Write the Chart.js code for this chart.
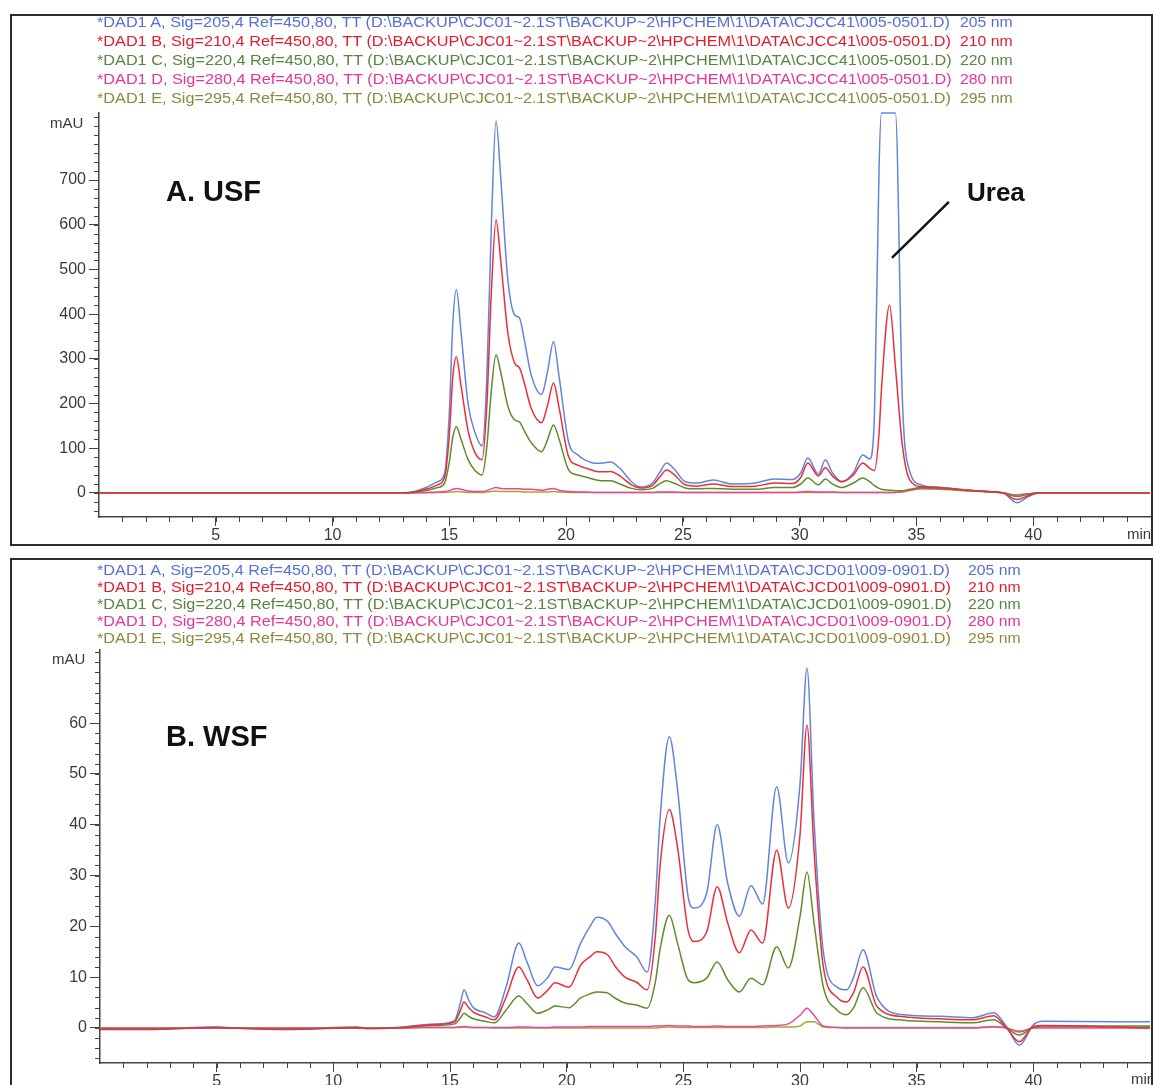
<!DOCTYPE html>
<html>
<head>
<meta charset="utf-8">
<script src="https://cdn.jsdelivr.net/npm/chart.js@4.4.0/dist/chart.umd.min.js"></script>
<style>
  html, body { margin:0; padding:0; background:#fff; }
  body { width:1153px; height:1085px; overflow:hidden; position:relative; font-family:'Liberation Sans', Arial, sans-serif; }
  .frame { position:absolute; border:2px solid #2e2e2e; box-sizing:border-box; }
  .hdr { position:absolute; white-space:pre; font-size:15px; transform-origin:0 50%; }
  .lbl { position:absolute; font-weight:bold; color:#111; white-space:pre; }
  .ax { position:absolute; font-size:15px; color:#3a3a3a; }
  canvas { position:absolute; left:0; }
</style>
</head>
<body>
<div class="frame" style="left:10px;top:14px;width:1143px;height:532px;"></div>
<div class="frame" style="left:10px;top:558px;width:1143px;height:560px;"></div>
<canvas id="cA" width="1153" height="550" style="top:0px;"></canvas>
<canvas id="cB" width="1153" height="535" style="top:550px;"></canvas>
<div id="hdrA"></div>
<div id="hdrB"></div>
<div class="lbl" style="left:166px;top:175px;font-size:29px;">A. USF</div>
<div class="lbl" style="left:967px;top:177px;font-size:26px;">Urea</div>
<div class="lbl" style="left:166px;top:720px;font-size:29px;">B. WSF</div>
<div class="ax" style="left:50px;top:114px;">mAU</div>
<div class="ax" style="left:52px;top:650px;">mAU</div>
<div class="ax" style="left:1127px;top:525px;">min</div>
<div class="ax" style="left:1131px;top:1070px;">min</div>
<script>
// ---------------- DATA ----------------
const seriesLabels = ['205 nm', '210 nm', '220 nm', '280 nm', '295 nm'];

const headerA = [
  '*DAD1 A, Sig=205,4 Ref=450,80, TT (D:\\BACKUP\\CJC01~2.1ST\\BACKUP~2\\HPCHEM\\1\\DATA\\CJCC41\\005-0501.D)',
  '*DAD1 B, Sig=210,4 Ref=450,80, TT (D:\\BACKUP\\CJC01~2.1ST\\BACKUP~2\\HPCHEM\\1\\DATA\\CJCC41\\005-0501.D)',
  '*DAD1 C, Sig=220,4 Ref=450,80, TT (D:\\BACKUP\\CJC01~2.1ST\\BACKUP~2\\HPCHEM\\1\\DATA\\CJCC41\\005-0501.D)',
  '*DAD1 D, Sig=280,4 Ref=450,80, TT (D:\\BACKUP\\CJC01~2.1ST\\BACKUP~2\\HPCHEM\\1\\DATA\\CJCC41\\005-0501.D)',
  '*DAD1 E, Sig=295,4 Ref=450,80, TT (D:\\BACKUP\\CJC01~2.1ST\\BACKUP~2\\HPCHEM\\1\\DATA\\CJCC41\\005-0501.D)'
];
const headerB = [
  '*DAD1 A, Sig=205,4 Ref=450,80, TT (D:\\BACKUP\\CJC01~2.1ST\\BACKUP~2\\HPCHEM\\1\\DATA\\CJCD01\\009-0901.D)',
  '*DAD1 B, Sig=210,4 Ref=450,80, TT (D:\\BACKUP\\CJC01~2.1ST\\BACKUP~2\\HPCHEM\\1\\DATA\\CJCD01\\009-0901.D)',
  '*DAD1 C, Sig=220,4 Ref=450,80, TT (D:\\BACKUP\\CJC01~2.1ST\\BACKUP~2\\HPCHEM\\1\\DATA\\CJCD01\\009-0901.D)',
  '*DAD1 D, Sig=280,4 Ref=450,80, TT (D:\\BACKUP\\CJC01~2.1ST\\BACKUP~2\\HPCHEM\\1\\DATA\\CJCD01\\009-0901.D)',
  '*DAD1 E, Sig=295,4 Ref=450,80, TT (D:\\BACKUP\\CJC01~2.1ST\\BACKUP~2\\HPCHEM\\1\\DATA\\CJCD01\\009-0901.D)'
];

const xTicks = [5, 10, 15, 20, 25, 30, 35, 40];
const yTicksA = [0, 100, 200, 300, 400, 500, 600, 700];
const yTicksB = [0, 10, 20, 30, 40, 50, 60];

// Panel A: USF (retention time, min)
const timeA = [0, 5, 10, 13, 13.5, 14, 14.5, 14.8, 15.0, 15.15,
  15.3, 15.5, 15.8, 16.1, 16.4, 16.6, 16.8, 17.0, 17.2, 17.5,
  17.8, 18.0, 18.2, 18.5, 18.95, 19.2, 19.46, 19.7, 20.1, 20.5,
  20.8, 21.3, 21.6, 21.9, 22.3, 22.8, 23.2, 23.7, 24.0, 24.3,
  24.6, 25.1, 25.6, 26.3, 27.1, 28.1, 28.9, 29.7, 30.05, 30.35,
  30.8, 31.1, 31.4, 31.8, 32.3, 32.7, 33.0, 33.2, 33.4, 33.5,
  33.85, 34.1, 34.4, 34.7, 35.2, 36.0, 37.0, 38.0, 38.7, 39.3,
  39.8, 40.3, 45];
const usf205 = [0, 0, 0, 0, 3, 12, 25, 45, 180, 380,
  455, 360, 200, 135, 105, 250, 600, 832, 705, 480,
  398, 392, 345, 265, 220, 270, 338, 260, 115, 85,
  74, 66, 67, 69, 55, 25, 13, 22, 45, 67,
  55, 25, 22, 29, 20, 22, 31, 30, 45, 78,
  42, 74, 45, 25, 45, 85, 76, 170, 730, 850,
  850, 850, 205, 50, 18, 12, 7, 3, 0, -22,
  -8, 0, 0];
const usf210 = [0, 0, 0, 0, 2, 8, 18, 35, 130, 260,
  304, 240, 140, 90, 74, 190, 450, 611, 520, 360,
  290, 280, 248, 190, 157, 195, 246, 190, 82, 62,
  56, 48, 47, 48, 38, 18, 11, 17, 35, 51,
  42, 18, 15, 20, 14, 15, 22, 21, 35, 67,
  38, 56, 38, 25, 40, 67, 55, 50, 134, 230,
  420, 282, 105, 30, 14, 12, 7, 3, 0, -15,
  -6, 0, 0];
const usf220 = [0, 0, 0, 0, 1, 5, 12, 22, 70, 125,
  148, 120, 75, 50, 40, 100, 230, 309, 270, 195,
  163, 159, 140, 113, 92, 118, 152, 120, 52, 40,
  36, 29, 27, 27, 20, 10, 7, 10, 20, 27,
  22, 11, 9, 10, 8, 8, 12, 12, 20, 33,
  18, 31, 20, 12, 22, 33, 25, 16, 10, 8,
  6, 5, 5, 8, 12, 10, 6, 3, 0, -8,
  -3, 0, 0];
const usf280 = [0, 0, 0, 0, 0, 1, 2, 3, 5, 8,
  10, 8, 4, 3, 3, 5, 9, 12, 10, 9,
  9, 9, 8, 8, 6, 8, 10, 6, 3, 2,
  2, 1, 1, 1, 1, 1, 1, 1, 2, 2,
  2, 1, 1, 1, 1, 1, 1, 1, 2, 3,
  2, 2, 2, 1, 1, 1, 1, 1, 1, 1,
  1, 1, 3, 6, 10, 9, 6, 3, 0, -5,
  -2, 0, 0];
const usf295 = [0, 0, 0, 0, 0, 0, 1, 1, 2, 2,
  3, 2, 1, 1, 1, 2, 3, 4, 3, 3,
  3, 3, 2, 2, 2, 2, 3, 2, 1, 1,
  1, 1, 1, 1, 1, 1, 1, 1, 1, 1,
  1, 1, 1, 1, 1, 1, 1, 1, 1, 1,
  1, 1, 1, 1, 1, 1, 1, 1, 1, 1,
  1, 1, 2, 5, 9, 8, 5, 2, 0, -5,
  -2, 0, 0];

// Panel B: WSF (retention time, min)
const timeB = [0, 2, 5, 5.5, 8, 11, 11.5, 13, 13.8, 14.5,
  15.2, 15.45, 15.6, 15.8, 16.0, 16.5, 16.9, 17.4, 17.95, 18.3,
  18.76, 19.2, 19.5, 20.1, 20.6, 21.0, 21.3, 21.75, 22.1, 22.5,
  23.0, 23.45, 23.8, 24.0, 24.4, 24.75, 25.2, 25.45, 26.0, 26.45,
  26.9, 27.4, 27.9, 28.4, 29.0, 29.5, 30.0, 30.3, 30.6, 31.0,
  31.6, 32.0, 32.3, 32.7, 33.3, 34.45, 36.0, 37.4, 38.3, 38.85,
  39.4, 40.0, 40.4, 45];
const wsf205 = [-0.2, -0.2, 0.2, 0.1, -0.2, 0.2, 0, 0.2, 0.6, 0.8,
  1.5, 5, 7.5, 5.5, 4, 3, 2.2, 8, 16.7, 13,
  8.3, 10, 12, 11.5, 16.7, 20, 21.8, 21, 18.5, 16,
  14, 11, 25, 41, 57.3, 47, 26, 23.6, 26.5, 40,
  28.5, 22, 28, 24.4, 47.5, 32.5, 48, 70.8, 41, 15,
  8, 7.5, 10, 15.4, 6, 2.6, 2.3, 2, 3, 0.3,
  -3.4, 0.6, 1.3, 1.2];
const wsf210 = [-0.3, -0.3, 0.1, 0, -0.3, 0.1, -0.1, 0.1, 0.5, 0.7,
  1.2, 3.5, 5.1, 4, 3.1, 2.2, 1.6, 6, 12, 9.5,
  5.9, 7.5, 8.9, 8, 12.4, 14, 15, 14.4, 12, 10,
  9, 7.5, 18, 31.7, 43, 35.6, 19.3, 17, 18.9, 27.8,
  20.7, 14.8, 19.3, 16.7, 35, 23.6, 38, 59.6, 35, 12,
  6, 5.1, 7, 12, 4.2, 2.2, 1.8, 1.6, 2.4, 0,
  -2.7, 0.3, 0.5, 0];
const wsf220 = [-0.2, -0.2, 0.1, 0, -0.2, 0, -0.1, 0.1, 0.4, 0.5,
  0.8, 2, 2.9, 2.3, 1.8, 1.3, 1, 3.5, 6.3, 4.8,
  2.9, 3.6, 4.3, 4, 5.9, 6.7, 7.1, 6.9, 5.8, 4.9,
  4.5, 3.9, 9, 15.4, 22.2, 16.7, 9.5, 8.9, 9.8, 13,
  9.5, 7.1, 9.8, 8.5, 16, 11.8, 21.9, 30.7, 20.7, 8.1,
  3.5, 2.6, 4, 7.9, 2.9, 1.5, 1.2, 1, 1.6, 0,
  -1.4, 0.2, 0.4, 0.4];
const wsf280 = [0, 0, 0, 0, 0, 0, 0, 0, 0.1, 0.1,
  0.1, 0.2, 0.3, 0.2, 0.1, 0.1, 0.1, 0.1, 0.2, 0.2,
  0.1, 0.1, 0.2, 0.2, 0.2, 0.3, 0.3, 0.3, 0.3, 0.3,
  0.3, 0.3, 0.4, 0.4, 0.5, 0.4, 0.4, 0.3, 0.3, 0.4,
  0.3, 0.3, 0.3, 0.4, 0.5, 0.8, 2.5, 3.9, 2.5, 0.4,
  0.1, 0, 0, 0, 0, 0, 0, 0, 0.2, 0,
  -0.8, 0, 0, 0];
const wsf295 = [0, 0, 0, 0, 0, 0, 0, 0, 0.1, 0.1,
  0.1, 0.1, 0.2, 0.1, 0.1, 0.1, 0, 0, 0, 0,
  0, 0, 0, 0, 0, 0, 0, 0, 0, 0,
  0, 0, 0, 0.1, 0.2, 0.1, 0.1, 0.1, 0.1, 0.1,
  0.1, 0.1, 0.1, 0.1, 0.2, 0.2, 0.4, 1.2, 1.2, 0.2,
  0.1, 0.1, 0.1, 0.1, 0.1, 0.1, 0.1, 0.1, 0.3, 0,
  -0.6, 0, 0.2, 0.2];

// Urea pointer endpoints in data units (min, mAU)
const ureaPointer = [[33.95, 526], [36.39, 651]];

// ---------------- STYLE ----------------
const lineColors = ['#6584da', '#e8303c', '#5f8c2c', '#e448a0', '#aca42c'];
const textColors = ['#5570d4', '#e31b2b', '#5c8240', '#e5359a', '#8a8a3c'];
const FONT = "'Liberation Sans', Arial, sans-serif";

function buildHeader(id, lines, top, lh, nmLeft) {
  const host = document.getElementById(id);
  lines.forEach((txt, i) => {
    const d = document.createElement('div');
    d.className = 'hdr';
    d.style.left = '97px';
    d.style.top = (top + i * lh) + 'px';
    d.style.lineHeight = lh + 'px';
    d.style.color = textColors[i];
    d.style.transform = 'scaleX(1.083)';
    d.textContent = txt;
    host.appendChild(d);
    const n = document.createElement('div');
    n.className = 'hdr';
    n.style.left = nmLeft + 'px';
    n.style.top = (top + i * lh) + 'px';
    n.style.lineHeight = lh + 'px';
    n.style.color = textColors[i];
    n.style.transform = 'scaleX(1.05)';
    n.textContent = seriesLabels[i];
    host.appendChild(n);
  });
}
buildHeader('hdrA', headerA, 12, 19, 960);
buildHeader('hdrB', headerB, 561, 17, 968);

const minorTicks = {
  id: 'minorTicks',
  afterDraw(chart, args, opts) {
    const ctx = chart.ctx, xs = chart.scales.x, ys = chart.scales.y;
    ctx.save();
    ctx.strokeStyle = '#444';
    ctx.lineWidth = 1;
    ctx.beginPath();
    const start = Math.ceil(ys.min / opts.yStep) * opts.yStep;
    for (let k = 0; start + k * opts.yStep <= ys.max; k++) {
      const p = Math.round(ys.getPixelForValue(start + k * opts.yStep)) + 0.5;
      ctx.moveTo(xs.left - 5, p); ctx.lineTo(xs.left, p);
    }
    for (let v = 1; v < xs.max; v++) {
      const p = Math.round(xs.getPixelForValue(v)) + 0.5;
      ctx.moveTo(p, ys.bottom); ctx.lineTo(p, ys.bottom + 5);
    }
    ctx.stroke();
    if (opts.pointer) {
      ctx.strokeStyle = '#111';
      ctx.lineWidth = 2.5;
      ctx.beginPath();
      ctx.moveTo(xs.getPixelForValue(opts.pointer[0][0]), ys.getPixelForValue(opts.pointer[0][1]));
      ctx.lineTo(xs.getPixelForValue(opts.pointer[1][0]), ys.getPixelForValue(opts.pointer[1][1]));
      ctx.stroke();
    }
    ctx.restore();
  }
};

function makeChart(id, times, series, cfg) {
  const datasets = series.map((vals, i) => ({
    label: seriesLabels[i],
    data: times.map((t, j) => ({ x: t, y: vals[j] })),
    borderColor: lineColors[i],
    borderWidth: 1.5,
    pointRadius: 0,
    fill: false,
    cubicInterpolationMode: 'monotone',
    clip: 4,
    order: [3, 1, 2, 4, 5][i]
  }));
  return new Chart(document.getElementById(id), {
    type: 'line',
    data: { datasets },
    options: {
      responsive: false,
      animation: false,
      devicePixelRatio: 1,
      layout: { padding: { left: 0, right: 3, top: cfg.padTop, bottom: 0 } },
      plugins: {
        legend: { display: false },
        tooltip: { enabled: false },
        minorTicks: { yStep: cfg.yStep, pointer: cfg.pointer || null }
      },
      scales: {
        x: {
          type: 'linear', min: 0, max: 45,
          afterBuildTicks: (ax) => { ax.ticks = xTicks.map(v => ({ value: v })); },
          afterFit: (ax) => { ax.height = cfg.xH; },
          grid: { drawOnChartArea: false, drawTicks: true, tickLength: 9, tickColor: '#444', tickWidth: 1 },
          border: { display: true, color: '#444', width: 1.5 },
          ticks: { font: { family: FONT, size: 16 }, color: '#3a3a3a', padding: 0, maxRotation: 0 }
        },
        y: {
          type: 'linear', min: cfg.yMin, max: cfg.yMax,
          afterBuildTicks: (ax) => { ax.ticks = cfg.yTicks.map(v => ({ value: v })); },
          afterFit: (ax) => { ax.width = cfg.yW; },
          grid: { drawOnChartArea: false, drawTicks: true, tickLength: 10, tickColor: '#444', tickWidth: 1 },
          border: { display: true, color: '#444', width: 1.5 },
          ticks: { font: { family: FONT, size: 16 }, color: '#3a3a3a', padding: 3 }
        }
      }
    },
    plugins: [minorTicks]
  });
}

makeChart('cA', timeA, [usf205, usf210, usf220, usf280, usf295],
  { padTop: 113, xH: 33, yW: 99, yMin: -54, yMax: 850, yTicks: yTicksA, yStep: 20, pointer: ureaPointer });
makeChart('cB', timeB, [wsf205, wsf210, wsf220, wsf280, wsf295],
  { padTop: 100, xH: 22, yW: 100, yMin: -6.9, yMax: 74.4, yTicks: yTicksB, yStep: 2 });
</script>
</body>
</html>
